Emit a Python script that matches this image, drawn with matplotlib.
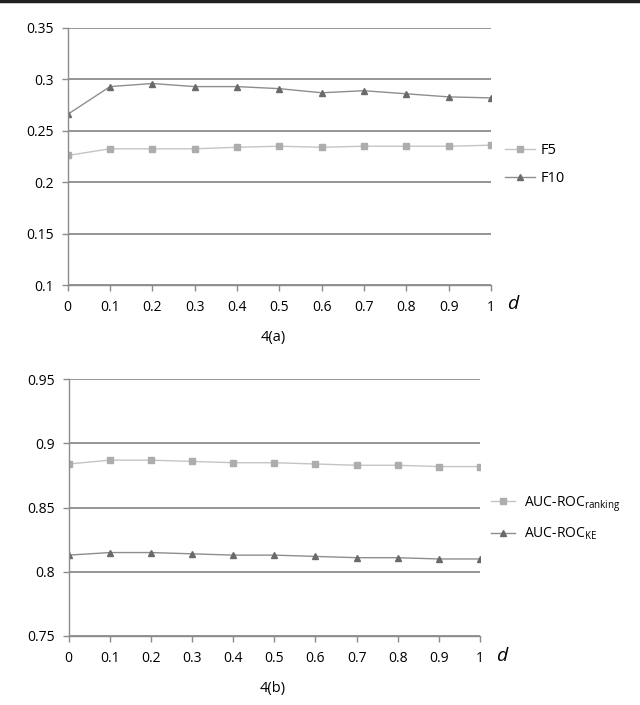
import matplotlib
matplotlib.use("Agg")
import matplotlib.pyplot as plt

plt.rcParams["font.family"] = ["Open Sans", "DejaVu Sans"]

d = [0, 0.1, 0.2, 0.3, 0.4, 0.5, 0.6, 0.7, 0.8, 0.9, 1]
d_labels = ["0", "0.1", "0.2", "0.3", "0.4", "0.5", "0.6", "0.7", "0.8", "0.9", "1"]

f5 = [0.226, 0.2325, 0.2325, 0.2325, 0.234, 0.235, 0.234, 0.235, 0.235, 0.235, 0.236]
f10 = [0.266, 0.293, 0.296, 0.293, 0.293, 0.291, 0.287, 0.289, 0.286, 0.283, 0.282]

auc_ranking = [0.884, 0.887, 0.887, 0.886, 0.885, 0.885, 0.884, 0.883, 0.883, 0.882, 0.882]
auc_ke = [0.813, 0.815, 0.815, 0.814, 0.813, 0.813, 0.812, 0.811, 0.811, 0.810, 0.810]

yticks_a = [0.1, 0.15, 0.2, 0.25, 0.3, 0.35]
yticks_b = [0.75, 0.8, 0.85, 0.9, 0.95]

grid_c = "#8c8c8c"
light = dict(color="#c4c4c4", lw=1.0, marker="s", ms=5, mfc="#adadad", mec="#adadad")
dark = dict(color="#8e8e8e", lw=1.0, marker="^", ms=5, mfc="#6a6a6a", mec="#6a6a6a")

fig = plt.figure(figsize=(6.4, 7.05), dpi=100)


def style(ax, yticks, ylabels):
    ax.set_xlim(0, 1)
    ax.set_ylim(yticks[0], yticks[-1])
    ax.set_xticks(d)
    ax.set_xticklabels(d_labels)
    ax.set_yticks(yticks)
    ax.set_yticklabels(ylabels)
    for s in ["top", "right"]:
        ax.spines[s].set_visible(False)
    for s in ["left", "bottom"]:
        ax.spines[s].set_color(grid_c)
        ax.spines[s].set_linewidth(1.0)
    ax.yaxis.grid(True, color=grid_c, lw=1.3)
    ax.set_axisbelow(True)
    ax.tick_params(colors=grid_c, labelcolor="black", labelsize=10,
                   length=4, width=1.0)
    ax.tick_params(axis="x", pad=7)
    ax.tick_params(axis="y", pad=6)


ax1 = fig.add_axes([0.1058, 0.5957, 0.6612, 0.3646])
ax1.plot(d, f5, label="F5", **light)
ax1.plot(d, f10, label="F10", **dark)
style(ax1, yticks_a, ["0.1", "0.15", "0.2", "0.25", "0.3", "0.35"])
ax1.legend(loc="center left", bbox_to_anchor=(1.0, 0.469), frameon=False,
           fontsize=10.5, handlelength=2.0, handletextpad=0.4,
           labelspacing=0.85, borderaxespad=0.6)
ax1.text(1.052, -0.074, "d", transform=ax1.transAxes, style="italic",
         fontsize=14, va="center", ha="center")
ax1.text(0.485, -0.206, "4(a)", transform=ax1.transAxes, fontsize=10.5,
         va="center", ha="center")

ax2 = fig.add_axes([0.1073, 0.0979, 0.6427, 0.3641])
ax2.plot(d, auc_ranking, label="AUC-ROC$_{\\mathregular{ranking}}$", **light)
ax2.plot(d, auc_ke, label="AUC-ROC$_{\\mathregular{KE}}$", **dark)
style(ax2, yticks_b, ["0.75", "0.8", "0.85", "0.9", "0.95"])
ax2.legend(loc="center left", bbox_to_anchor=(1.0, 0.46), frameon=False,
           fontsize=10, handlelength=1.7, handletextpad=0.7,
           labelspacing=0.85, borderaxespad=0.4)
ax2.text(1.053, -0.078, "d", transform=ax2.transAxes, style="italic",
         fontsize=14, va="center", ha="center")
ax2.text(0.497, -0.203, "4(b)", transform=ax2.transAxes, fontsize=10.5,
         va="center", ha="center")

# dark rule along the top edge of the page
fig.add_artist(plt.Line2D([0, 1], [0.998, 0.998], color="#222222", lw=2.5,
                          transform=fig.transFigure))

fig.savefig("out.png", dpi=100)
